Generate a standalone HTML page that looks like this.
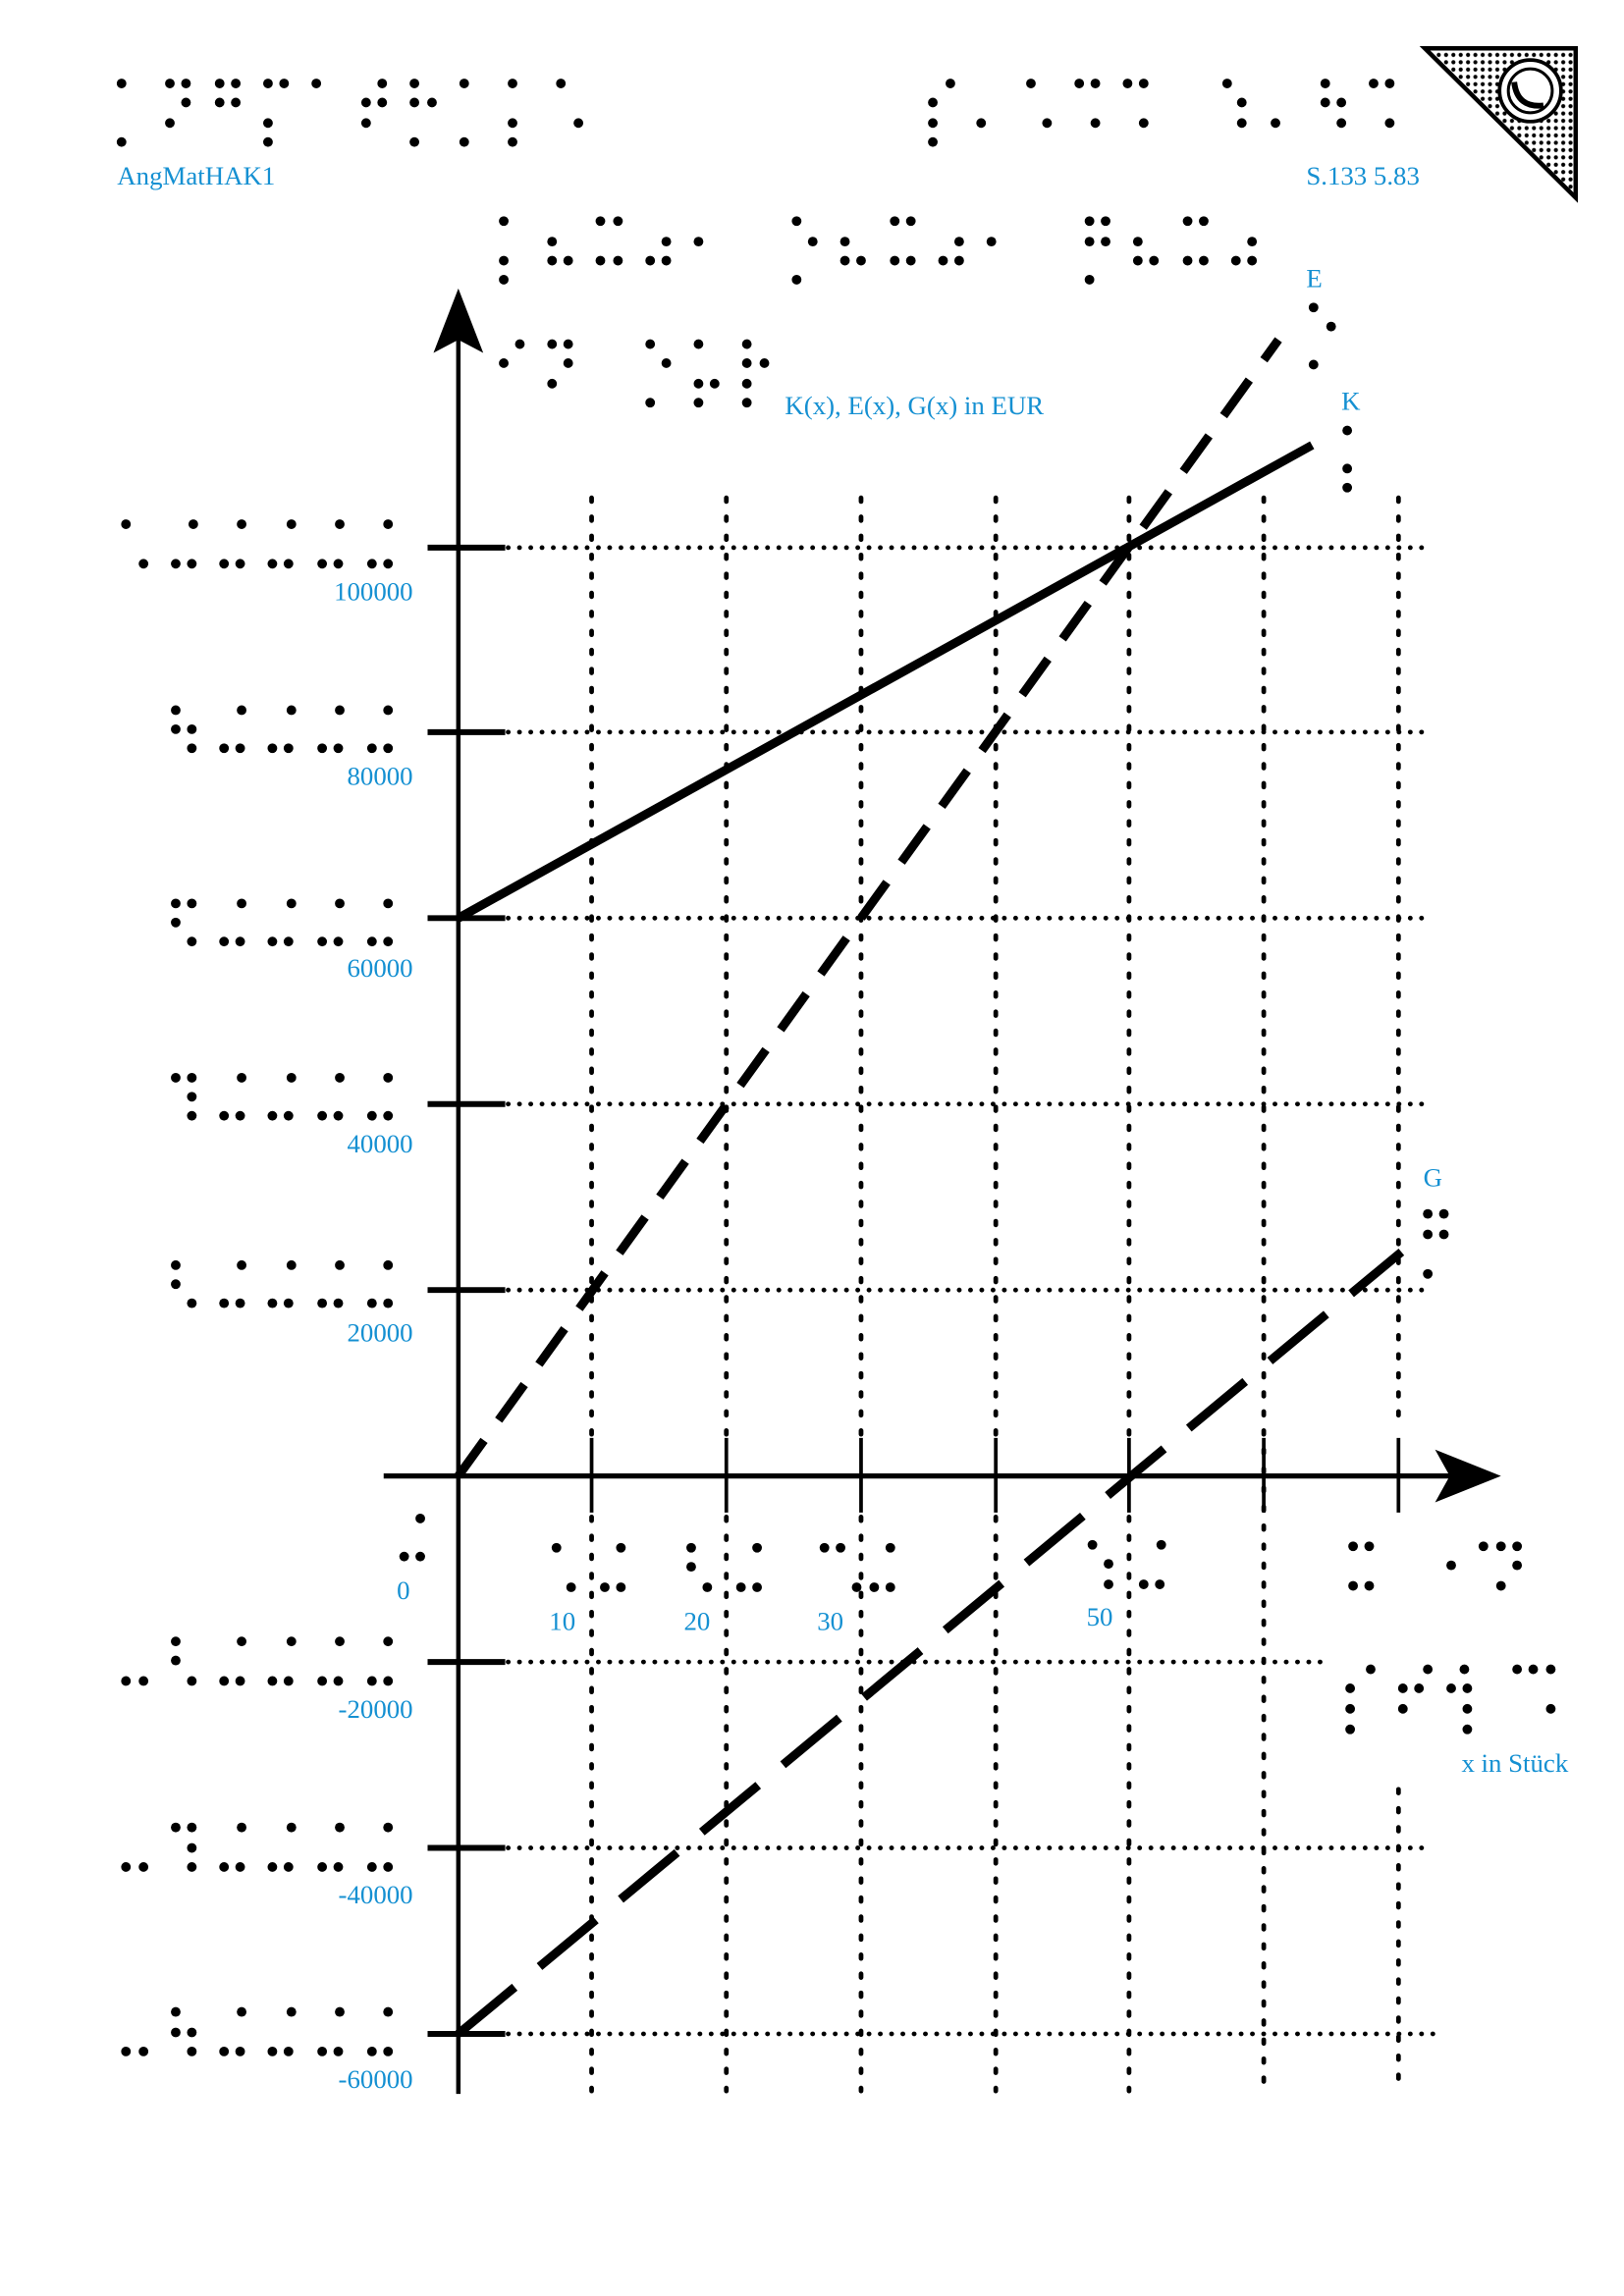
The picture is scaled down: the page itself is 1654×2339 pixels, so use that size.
<!DOCTYPE html>
<html><head><meta charset="utf-8"><style>
html,body{margin:0;padding:0;background:#fff}
svg{display:block}
text{font-family:"Liberation Serif",serif;fill:#1590d2;font-size:18px}
</style></head><body>
<svg width="1654" height="2339" viewBox="0 0 1109 1568" preserveAspectRatio="none" xmlns="http://www.w3.org/2000/svg">
<defs>
<pattern id="pd" width="5" height="5" patternUnits="userSpaceOnUse"><circle cx="2.5" cy="2.5" r="1.4" fill="#000"/></pattern>
</defs>
<polygon points="973,33 1076,33 1076,135" fill="url(#pd)" stroke="#000" stroke-width="3"/>
<circle cx="1045" cy="62" r="21" fill="#fff" stroke="#000" stroke-width="2.5"/>
<circle cx="1045" cy="62" r="15" fill="#fff" stroke="#000" stroke-width="2"/>
<path d="M1034,56 Q1036,74 1054,72" fill="none" stroke="#000" stroke-width="4"/>

<g stroke="#000" stroke-width="3.2" stroke-dasharray="0.1 7.6" stroke-linecap="round" fill="none">
<line x1="347" y1="374" x2="975" y2="374"/>
<line x1="347" y1="500" x2="975" y2="500"/>
<line x1="347" y1="627" x2="975" y2="627"/>
<line x1="347" y1="754" x2="975" y2="754"/>
<line x1="347" y1="881" x2="975" y2="881"/>
<line x1="347" y1="1135" x2="905" y2="1135"/>
<line x1="347" y1="1262" x2="975" y2="1262"/>
<line x1="347" y1="1389" x2="985" y2="1389"/>
</g>
<g stroke="#000" stroke-width="3.2" stroke-dasharray="2.5 10.5" stroke-linecap="round" fill="none">
<line x1="404" y1="340" x2="404" y2="980"/><line x1="404" y1="1036" x2="404" y2="1428"/>
<line x1="496" y1="340" x2="496" y2="980"/><line x1="496" y1="1036" x2="496" y2="1428"/>
<line x1="588" y1="340" x2="588" y2="980"/><line x1="588" y1="1036" x2="588" y2="1428"/>
<line x1="680" y1="340" x2="680" y2="980"/><line x1="680" y1="1036" x2="680" y2="1428"/>
<line x1="771" y1="340" x2="771" y2="980"/><line x1="771" y1="1036" x2="771" y2="1428"/>
<line x1="863" y1="340" x2="863" y2="1428"/>
<line x1="955" y1="340" x2="955" y2="975"/><line x1="955" y1="1222" x2="955" y2="1428"/>
</g>

<g stroke="#000">
<line x1="313" y1="225" x2="313" y2="1430" stroke-width="3"/>
<line x1="262" y1="1008" x2="995" y2="1008" stroke-width="3.5"/>
<g stroke-width="4">
<line x1="292" y1="374" x2="345" y2="374"/><line x1="292" y1="500" x2="345" y2="500"/>
<line x1="292" y1="627" x2="345" y2="627"/><line x1="292" y1="754" x2="345" y2="754"/>
<line x1="292" y1="881" x2="345" y2="881"/><line x1="292" y1="1135" x2="345" y2="1135"/>
<line x1="292" y1="1262" x2="345" y2="1262"/><line x1="292" y1="1389" x2="345" y2="1389"/>
</g>
<g stroke-width="2.5">
<line x1="404" y1="982" x2="404" y2="1033"/><line x1="496" y1="982" x2="496" y2="1033"/>
<line x1="588" y1="982" x2="588" y2="1033"/><line x1="680" y1="982" x2="680" y2="1033"/>
<line x1="771" y1="982" x2="771" y2="1033"/><line x1="863" y1="982" x2="863" y2="1033"/>
<line x1="955" y1="982" x2="955" y2="1033"/>
</g>
</g>
<polygon points="313,197 296,241 313,232 330,241" fill="#000"/>
<polygon points="1025,1008 980,990 990,1008 980,1026" fill="#000"/>

<line x1="313" y1="627" x2="896" y2="304" stroke="#000" stroke-width="6"/>
<line x1="313" y1="1008" x2="873" y2="232" stroke="#000" stroke-width="6" stroke-dasharray="30 17"/>
<line x1="313" y1="1389" x2="957" y2="855" stroke="#000" stroke-width="6" stroke-dasharray="50 22"/>

<text x="80" y="126">AngMatHAK1</text>
<text x="892" y="126">S.133 5.83</text>
<text x="536" y="283">K(x), E(x), G(x) in EUR</text>
<text x="892" y="196">E</text>
<text x="916" y="280">K</text>
<text x="972" y="810">G</text>
<text x="998" y="1210">x in Stück</text>
<g text-anchor="end">
<text x="282" y="410">100000</text>
<text x="282" y="536">80000</text>
<text x="282" y="667">60000</text>
<text x="282" y="787">40000</text>
<text x="282" y="916">20000</text>
<text x="280" y="1092">0</text>
<text x="282" y="1173">-20000</text>
<text x="282" y="1300">-40000</text>
<text x="282" y="1426">-60000</text>
</g>
<text x="375" y="1113">10</text>
<text x="467" y="1113">20</text>
<text x="558" y="1113">30</text>
<text x="742" y="1110">50</text>

<g fill="#000">
<circle cx="83" cy="57" r="3.3"/><circle cx="116" cy="57" r="3.3"/><circle cx="127" cy="57" r="3.3"/><circle cx="150" cy="57" r="3.3"/><circle cx="161" cy="57" r="3.3"/><circle cx="183" cy="57" r="3.3"/><circle cx="194" cy="57" r="3.3"/><circle cx="216" cy="57" r="3.3"/><circle cx="261" cy="57" r="3.3"/><circle cx="283" cy="57" r="3.3"/><circle cx="317" cy="57" r="3.3"/><circle cx="350" cy="57" r="3.3"/><circle cx="383" cy="57" r="3.3"/>
<circle cx="127" cy="70" r="3.3"/><circle cx="150" cy="70" r="3.3"/><circle cx="161" cy="70" r="3.3"/><circle cx="250" cy="70" r="3.3"/><circle cx="261" cy="70" r="3.3"/><circle cx="283" cy="70" r="3.3"/><circle cx="295" cy="70" r="3.3"/>
<circle cx="116" cy="84" r="3.3"/><circle cx="183" cy="84" r="3.3"/><circle cx="250" cy="84" r="3.3"/><circle cx="350" cy="84" r="3.3"/><circle cx="395" cy="84" r="3.3"/>
<circle cx="83" cy="97" r="3.3"/><circle cx="183" cy="97" r="3.3"/><circle cx="283" cy="97" r="3.3"/><circle cx="317" cy="97" r="3.3"/><circle cx="350" cy="97" r="3.3"/>
<circle cx="649" cy="57" r="3.3"/><circle cx="704" cy="57" r="3.3"/><circle cx="737" cy="57" r="3.3"/><circle cx="748" cy="57" r="3.3"/><circle cx="770" cy="57" r="3.3"/><circle cx="781" cy="57" r="3.3"/><circle cx="838" cy="57" r="3.3"/><circle cx="905" cy="57" r="3.3"/><circle cx="938" cy="57" r="3.3"/><circle cx="949" cy="57" r="3.3"/>
<circle cx="637" cy="70" r="3.3"/><circle cx="848" cy="70" r="3.3"/><circle cx="905" cy="70" r="3.3"/><circle cx="916" cy="70" r="3.3"/>
<circle cx="637" cy="84" r="3.3"/><circle cx="670" cy="84" r="3.3"/><circle cx="715" cy="84" r="3.3"/><circle cx="748" cy="84" r="3.3"/><circle cx="781" cy="84" r="3.3"/><circle cx="848" cy="84" r="3.3"/><circle cx="871" cy="84" r="3.3"/><circle cx="916" cy="84" r="3.3"/><circle cx="949" cy="84" r="3.3"/>
<circle cx="637" cy="97" r="3.3"/>
<circle cx="344" cy="151" r="3.3"/><circle cx="410" cy="151" r="3.3"/><circle cx="422" cy="151" r="3.3"/><circle cx="544" cy="151" r="3.3"/><circle cx="611" cy="151" r="3.3"/><circle cx="622" cy="151" r="3.3"/><circle cx="744" cy="151" r="3.3"/><circle cx="755" cy="151" r="3.3"/><circle cx="811" cy="151" r="3.3"/><circle cx="822" cy="151" r="3.3"/>
<circle cx="377" cy="165" r="3.3"/><circle cx="455" cy="165" r="3.3"/><circle cx="477" cy="165" r="3.3"/><circle cx="555" cy="165" r="3.3"/><circle cx="577" cy="165" r="3.3"/><circle cx="655" cy="165" r="3.3"/><circle cx="677" cy="165" r="3.3"/><circle cx="744" cy="165" r="3.3"/><circle cx="755" cy="165" r="3.3"/><circle cx="777" cy="165" r="3.3"/><circle cx="855" cy="165" r="3.3"/>
<circle cx="344" cy="178" r="3.3"/><circle cx="377" cy="178" r="3.3"/><circle cx="388" cy="178" r="3.3"/><circle cx="410" cy="178" r="3.3"/><circle cx="422" cy="178" r="3.3"/><circle cx="444" cy="178" r="3.3"/><circle cx="455" cy="178" r="3.3"/><circle cx="577" cy="178" r="3.3"/><circle cx="588" cy="178" r="3.3"/><circle cx="611" cy="178" r="3.3"/><circle cx="622" cy="178" r="3.3"/><circle cx="644" cy="178" r="3.3"/><circle cx="655" cy="178" r="3.3"/><circle cx="777" cy="178" r="3.3"/><circle cx="788" cy="178" r="3.3"/><circle cx="811" cy="178" r="3.3"/><circle cx="822" cy="178" r="3.3"/><circle cx="844" cy="178" r="3.3"/><circle cx="855" cy="178" r="3.3"/>
<circle cx="344" cy="191" r="3.3"/><circle cx="544" cy="191" r="3.3"/><circle cx="744" cy="191" r="3.3"/>
<circle cx="355" cy="235" r="3.3"/><circle cx="377" cy="235" r="3.3"/><circle cx="388" cy="235" r="3.3"/><circle cx="444" cy="235" r="3.3"/><circle cx="477" cy="235" r="3.3"/><circle cx="510" cy="235" r="3.3"/>
<circle cx="344" cy="248" r="3.3"/><circle cx="388" cy="248" r="3.3"/><circle cx="455" cy="248" r="3.3"/><circle cx="510" cy="248" r="3.3"/><circle cx="522" cy="248" r="3.3"/>
<circle cx="377" cy="262" r="3.3"/><circle cx="477" cy="262" r="3.3"/><circle cx="488" cy="262" r="3.3"/><circle cx="510" cy="262" r="3.3"/>
<circle cx="444" cy="275" r="3.3"/><circle cx="477" cy="275" r="3.3"/><circle cx="510" cy="275" r="3.3"/>
<circle cx="897" cy="210" r="3.3"/><circle cx="909" cy="223" r="3.3"/><circle cx="897" cy="249" r="3.3"/>
<circle cx="920" cy="294" r="3.3"/><circle cx="920" cy="320" r="3.3"/><circle cx="920" cy="333" r="3.3"/>
<circle cx="975" cy="829" r="3.3"/><circle cx="986" cy="829" r="3.3"/><circle cx="975" cy="843" r="3.3"/><circle cx="986" cy="843" r="3.3"/><circle cx="975" cy="870" r="3.3"/>
<circle cx="86" cy="358" r="3.3"/><circle cx="132" cy="358" r="3.3"/><circle cx="165" cy="358" r="3.3"/><circle cx="199" cy="358" r="3.3"/><circle cx="232" cy="358" r="3.3"/><circle cx="265" cy="358" r="3.3"/>
<circle cx="98" cy="385" r="3.3"/><circle cx="120" cy="385" r="3.3"/><circle cx="131" cy="385" r="3.3"/><circle cx="153" cy="385" r="3.3"/><circle cx="164" cy="385" r="3.3"/><circle cx="186" cy="385" r="3.3"/><circle cx="197" cy="385" r="3.3"/><circle cx="220" cy="385" r="3.3"/><circle cx="231" cy="385" r="3.3"/><circle cx="254" cy="385" r="3.3"/><circle cx="265" cy="385" r="3.3"/>
<circle cx="120" cy="485" r="3.3"/><circle cx="165" cy="485" r="3.3"/><circle cx="199" cy="485" r="3.3"/><circle cx="232" cy="485" r="3.3"/><circle cx="265" cy="485" r="3.3"/>
<circle cx="120" cy="498" r="3.3"/><circle cx="131" cy="498" r="3.3"/>
<circle cx="131" cy="511" r="3.3"/><circle cx="153" cy="511" r="3.3"/><circle cx="164" cy="511" r="3.3"/><circle cx="186" cy="511" r="3.3"/><circle cx="197" cy="511" r="3.3"/><circle cx="220" cy="511" r="3.3"/><circle cx="231" cy="511" r="3.3"/><circle cx="254" cy="511" r="3.3"/><circle cx="265" cy="511" r="3.3"/>
<circle cx="120" cy="617" r="3.3"/><circle cx="131" cy="617" r="3.3"/><circle cx="165" cy="617" r="3.3"/><circle cx="199" cy="617" r="3.3"/><circle cx="232" cy="617" r="3.3"/><circle cx="265" cy="617" r="3.3"/>
<circle cx="120" cy="630" r="3.3"/>
<circle cx="131" cy="643" r="3.3"/><circle cx="153" cy="643" r="3.3"/><circle cx="164" cy="643" r="3.3"/><circle cx="186" cy="643" r="3.3"/><circle cx="197" cy="643" r="3.3"/><circle cx="220" cy="643" r="3.3"/><circle cx="231" cy="643" r="3.3"/><circle cx="254" cy="643" r="3.3"/><circle cx="265" cy="643" r="3.3"/>
<circle cx="120" cy="736" r="3.3"/><circle cx="131" cy="736" r="3.3"/><circle cx="165" cy="736" r="3.3"/><circle cx="199" cy="736" r="3.3"/><circle cx="232" cy="736" r="3.3"/><circle cx="265" cy="736" r="3.3"/>
<circle cx="131" cy="749" r="3.3"/>
<circle cx="131" cy="762" r="3.3"/><circle cx="153" cy="762" r="3.3"/><circle cx="164" cy="762" r="3.3"/><circle cx="186" cy="762" r="3.3"/><circle cx="197" cy="762" r="3.3"/><circle cx="220" cy="762" r="3.3"/><circle cx="231" cy="762" r="3.3"/><circle cx="254" cy="762" r="3.3"/><circle cx="265" cy="762" r="3.3"/>
<circle cx="120" cy="864" r="3.3"/><circle cx="165" cy="864" r="3.3"/><circle cx="199" cy="864" r="3.3"/><circle cx="232" cy="864" r="3.3"/><circle cx="265" cy="864" r="3.3"/>
<circle cx="120" cy="877" r="3.3"/>
<circle cx="131" cy="890" r="3.3"/><circle cx="153" cy="890" r="3.3"/><circle cx="164" cy="890" r="3.3"/><circle cx="186" cy="890" r="3.3"/><circle cx="197" cy="890" r="3.3"/><circle cx="220" cy="890" r="3.3"/><circle cx="231" cy="890" r="3.3"/><circle cx="254" cy="890" r="3.3"/><circle cx="265" cy="890" r="3.3"/>
<circle cx="120" cy="1121" r="3.3"/><circle cx="165" cy="1121" r="3.3"/><circle cx="199" cy="1121" r="3.3"/><circle cx="232" cy="1121" r="3.3"/><circle cx="265" cy="1121" r="3.3"/>
<circle cx="120" cy="1134" r="3.3"/>
<circle cx="86" cy="1148" r="3.3"/><circle cx="98" cy="1148" r="3.3"/><circle cx="131" cy="1148" r="3.3"/><circle cx="153" cy="1148" r="3.3"/><circle cx="164" cy="1148" r="3.3"/><circle cx="186" cy="1148" r="3.3"/><circle cx="197" cy="1148" r="3.3"/><circle cx="220" cy="1148" r="3.3"/><circle cx="231" cy="1148" r="3.3"/><circle cx="254" cy="1148" r="3.3"/><circle cx="265" cy="1148" r="3.3"/>
<circle cx="120" cy="1248" r="3.3"/><circle cx="131" cy="1248" r="3.3"/><circle cx="165" cy="1248" r="3.3"/><circle cx="199" cy="1248" r="3.3"/><circle cx="232" cy="1248" r="3.3"/><circle cx="265" cy="1248" r="3.3"/>
<circle cx="131" cy="1262" r="3.3"/>
<circle cx="86" cy="1275" r="3.3"/><circle cx="98" cy="1275" r="3.3"/><circle cx="131" cy="1275" r="3.3"/><circle cx="153" cy="1275" r="3.3"/><circle cx="164" cy="1275" r="3.3"/><circle cx="186" cy="1275" r="3.3"/><circle cx="197" cy="1275" r="3.3"/><circle cx="220" cy="1275" r="3.3"/><circle cx="231" cy="1275" r="3.3"/><circle cx="254" cy="1275" r="3.3"/><circle cx="265" cy="1275" r="3.3"/>
<circle cx="120" cy="1374" r="3.3"/><circle cx="165" cy="1374" r="3.3"/><circle cx="199" cy="1374" r="3.3"/><circle cx="232" cy="1374" r="3.3"/><circle cx="265" cy="1374" r="3.3"/>
<circle cx="120" cy="1388" r="3.3"/><circle cx="131" cy="1388" r="3.3"/>
<circle cx="86" cy="1401" r="3.3"/><circle cx="98" cy="1401" r="3.3"/><circle cx="131" cy="1401" r="3.3"/><circle cx="153" cy="1401" r="3.3"/><circle cx="164" cy="1401" r="3.3"/><circle cx="186" cy="1401" r="3.3"/><circle cx="197" cy="1401" r="3.3"/><circle cx="220" cy="1401" r="3.3"/><circle cx="231" cy="1401" r="3.3"/><circle cx="254" cy="1401" r="3.3"/><circle cx="265" cy="1401" r="3.3"/>
<circle cx="287" cy="1037" r="3.3"/><circle cx="276" cy="1063" r="3.3"/><circle cx="287" cy="1063" r="3.3"/>
<circle cx="380" cy="1057" r="3.3"/><circle cx="424" cy="1057" r="3.3"/><circle cx="390" cy="1084" r="3.3"/><circle cx="413" cy="1084" r="3.3"/><circle cx="424" cy="1084" r="3.3"/>
<circle cx="472" cy="1057" r="3.3"/><circle cx="517" cy="1057" r="3.3"/><circle cx="472" cy="1070" r="3.3"/><circle cx="483" cy="1084" r="3.3"/><circle cx="506" cy="1084" r="3.3"/><circle cx="517" cy="1084" r="3.3"/>
<circle cx="563" cy="1057" r="3.3"/><circle cx="574" cy="1057" r="3.3"/><circle cx="608" cy="1057" r="3.3"/><circle cx="585" cy="1084" r="3.3"/><circle cx="597" cy="1084" r="3.3"/><circle cx="608" cy="1084" r="3.3"/>
<circle cx="746" cy="1055" r="3.3"/><circle cx="793" cy="1055" r="3.3"/><circle cx="757" cy="1068" r="3.3"/><circle cx="757" cy="1082" r="3.3"/><circle cx="781" cy="1082" r="3.3"/><circle cx="792" cy="1082" r="3.3"/>
<circle cx="924" cy="1056" r="3.3"/><circle cx="935" cy="1056" r="3.3"/><circle cx="924" cy="1083" r="3.3"/><circle cx="935" cy="1083" r="3.3"/>
<circle cx="1013" cy="1056" r="3.3"/><circle cx="1025" cy="1056" r="3.3"/><circle cx="1036" cy="1056" r="3.3"/><circle cx="991" cy="1069" r="3.3"/><circle cx="1036" cy="1069" r="3.3"/><circle cx="1025" cy="1083" r="3.3"/>
<circle cx="936" cy="1140" r="3.3"/><circle cx="975" cy="1140" r="3.3"/><circle cx="1000" cy="1140" r="3.3"/><circle cx="1036" cy="1140" r="3.3"/><circle cx="1047" cy="1140" r="3.3"/><circle cx="1059" cy="1140" r="3.3"/>
<circle cx="922" cy="1153" r="3.3"/><circle cx="958" cy="1153" r="3.3"/><circle cx="969" cy="1153" r="3.3"/><circle cx="991" cy="1153" r="3.3"/><circle cx="1002" cy="1153" r="3.3"/>
<circle cx="922" cy="1167" r="3.3"/><circle cx="958" cy="1167" r="3.3"/><circle cx="1002" cy="1167" r="3.3"/><circle cx="1059" cy="1167" r="3.3"/>
<circle cx="922" cy="1181" r="3.3"/><circle cx="1002" cy="1181" r="3.3"/>
</g>
</svg>
</body></html>
